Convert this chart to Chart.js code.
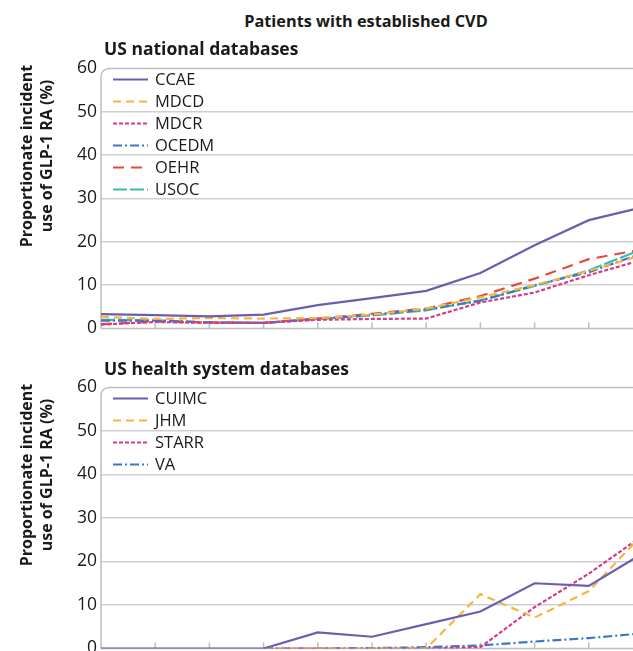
<!DOCTYPE html>
<html><head><meta charset="utf-8">
<script src="https://cdn.jsdelivr.net/npm/chart.js@4.4.0/dist/chart.umd.min.js"></script>
<style>
html,body{margin:0;padding:0;background:#fff;}
body{width:633px;height:651px;overflow:hidden;position:relative;font-family:"Open Sans",sans-serif;color:#1a1a1a;}
.t{position:absolute;font-weight:700;white-space:nowrap;z-index:2;line-height:22px;}
.box{position:absolute;left:0;width:650px;}
.yt{position:absolute;width:280px;height:40px;line-height:20px;text-align:center;font-weight:700;font-size:16px;transform:rotate(-90deg);z-index:2;white-space:nowrap;}
</style></head>
<body>
<div class="t" style="left:0;width:732px;text-align:center;top:10px;font-size:16.3px;">Patients with established CVD</div>
<div class="t" style="left:104px;top:37px;font-size:17.5px;">US national databases</div>
<div class="t" style="left:104px;top:357px;font-size:17.5px;">US health system databases</div>
<div class="yt" style="left:-104px;top:136px;">Proportionate incident<br>use of GLP-1 RA (%)</div>
<div class="yt" style="left:-104px;top:455px;">Proportionate incident<br>use of GLP-1 RA (%)</div>
<div class="box" style="top:54px;height:289px;"><canvas id="c1"></canvas></div>
<div class="box" style="top:373px;height:290px;"><canvas id="c2"></canvas></div>
<script>
// Categories (calendar years)
const years = ['2011','2012','2013','2014','2015','2016','2017','2018','2019','2020','2021'];
const yTicks = [0,10,20,30,40,50,60];

// US national databases
const ccae  = [3.3, 3.1, 2.8, 3.2, 5.4, 7.0, 8.7, 12.8, 19.2, 25.0, 28.0];
const mdcd  = [2.7, 2.2, 2.4, 2.3, 2.4, 3.2, 4.6, 7.2, 10.0, 13.3, 17.0];
const mdcr  = [0.9, 1.5, 1.3, 1.3, 2.0, 2.2, 2.3, 6.0, 8.3, 12.3, 15.9];
const ocedm = [1.8, 1.8, 1.4, 1.3, 2.2, 3.2, 4.4, 6.4, 10.0, 13.0, 17.4];
const oehr  = [1.0, 1.6, 1.4, 1.3, 2.3, 3.4, 4.6, 7.5, 11.5, 16.0, 18.3];
const usoc  = [2.0, 1.9, 1.4, 1.3, 2.2, 3.0, 4.2, 6.5, 9.8, 13.4, 18.4];

// US health system databases
const cuimc = [0, 0, 0, 0, 3.7, 2.7, 5.6, 8.5, 15.0, 14.4, 21.9];
const jhm   = [null, null, null, 0, 0, 0, 0, 12.5, 7.1, 13.2, 26.3];
const starr = [null, null, null, 0, 0, 0, 0, 0.3, 9.5, 17.2, 26.0];
const va    = [null, null, null, 0, 0, 0.1, 0.3, 0.7, 1.6, 2.4, 3.5];

const C = {purple:'#6a5eae', orange:'#f5b544', pink:'#d63a8c', blue:'#3a78c2', red:'#e4493b', teal:'#3fb6ae'};
const D = {solid:[], dash:[8,5], dot:[4,2], dashdot:[9,3,2,3], longdash:[11,7], teal:[14,3]};

function ds(label, data, color, dash){
  return {label, data, borderColor:color, backgroundColor:color, borderDash:dash, borderWidth:2.2,
          pointRadius:0, tension:0, fill:false, spanGaps:false};
}

const framePlugin = {
  id:'frame',
  beforeDatasetsDraw(chart){
    const {ctx, chartArea:{left,right,top,bottom}} = chart;
    const xs = chart.scales.x;
    ctx.save();
    ctx.strokeStyle = '#bdbdbd'; ctx.lineWidth = 1.5;
    const r = 8;
    ctx.beginPath();
    ctx.moveTo(left, bottom); ctx.lineTo(left, top + r);
    ctx.arcTo(left, top, left + r, top, r);
    ctx.lineTo(right + 20, top);
    ctx.stroke();
    ctx.beginPath(); ctx.moveTo(left, bottom); ctx.lineTo(right + 20, bottom); ctx.stroke();
    ctx.beginPath();
    for (let i = 1; i < years.length; i++){
      const x = xs.getPixelForValue(i);
      ctx.moveTo(x, bottom); ctx.lineTo(x, bottom - 6);
    }
    ctx.stroke();
    ctx.restore();
  },
  afterDatasetsDraw(chart){
    const {ctx, chartArea:{left,top}} = chart;
    ctx.save();
    ctx.font = '16.5px "Open Sans", sans-serif';
    ctx.textBaseline = 'middle';
    chart.data.datasets.forEach((d, i) => {
      const y = top + 11 + i * 22;
      ctx.strokeStyle = d.borderColor; ctx.lineWidth = 2.2;
      ctx.setLineDash(d.borderDash);
      ctx.beginPath(); ctx.moveTo(left + 12, y); ctx.lineTo(left + 47, y); ctx.stroke();
      ctx.setLineDash([]);
      ctx.fillStyle = '#1a1a1a';
      ctx.fillText(d.label, left + 54, y + 1);
    });
    ctx.restore();
  }
};

function make(id, datasets){
  return new Chart(document.getElementById(id), {
    type:'line',
    data:{labels:years, datasets},
    plugins:[framePlugin],
    options:{
      responsive:true, maintainAspectRatio:false, animation:false,
      layout:{padding:{left:0, right:7, top:12, bottom:12}},
      plugins:{legend:{display:false}, tooltip:{enabled:false}},
      scales:{
        x:{type:'category', display:false, offset:false},
        y:{min:0, max:60,
           afterBuildTicks(s){ s.ticks = yTicks.map(v => ({value:v})); },
           afterFit(s){ s.width = 101; },
           border:{display:false},
           grid:{drawTicks:false, lineWidth:1.5,
                 color:c => (c.tick && (c.tick.value === 60 || c.tick.value === 0)) ? 'rgba(0,0,0,0)' : '#cfcfcf'},
           ticks:{padding:4, color:'#1a1a1a', font:{family:'"Open Sans", sans-serif', size:17.5}}
        }
      }
    }
  });
}

make('c1', [
  ds('CCAE', ccae, C.purple, D.solid),
  ds('MDCD', mdcd, C.orange, D.dash),
  ds('MDCR', mdcr, C.pink, D.dot),
  ds('OCEDM', ocedm, C.blue, D.dashdot),
  ds('OEHR', oehr, C.red, D.longdash),
  ds('USOC', usoc, C.teal, D.teal)
]);
make('c2', [
  ds('CUIMC', cuimc, C.purple, D.solid),
  ds('JHM', jhm, C.orange, D.dash),
  ds('STARR', starr, C.pink, D.dot),
  ds('VA', va, C.blue, D.dashdot)
]);
</script>
</body></html>
